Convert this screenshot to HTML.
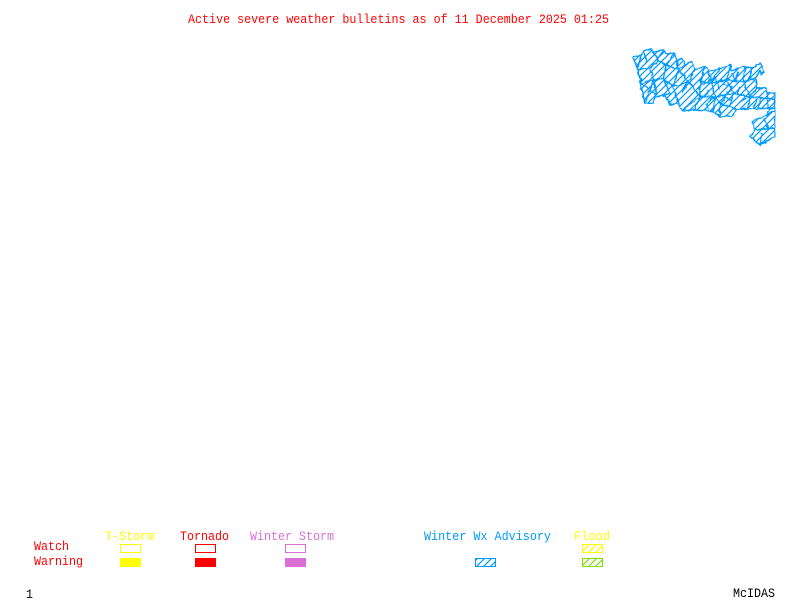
<!DOCTYPE html>
<html><head><meta charset="utf-8"><style>
html,body{margin:0;padding:0;background:#fff}
svg{display:block}
text{font-family:"Liberation Mono",monospace;font-size:12.5px}
</style></head><body>
<svg width="800" height="600" viewBox="0 0 800 600" xmlns="http://www.w3.org/2000/svg">
<defs>
<pattern id="hb" patternUnits="userSpaceOnUse" width="7" height="7"><path d="M-1 8L8 -1M-1 1L1 -1M6 8L8 6" stroke="#0099ff" stroke-width="1.2"/></pattern>
<pattern id="hy" patternUnits="userSpaceOnUse" width="7" height="7"><path d="M-1 8L8 -1M-1 1L1 -1M6 8L8 6" stroke="#ffff00" stroke-width="1.2"/></pattern>
<pattern id="hg" patternUnits="userSpaceOnUse" width="7" height="7"><path d="M-1 8L8 -1M-1 1L1 -1M6 8L8 6" stroke="#7fdd00" stroke-width="1.2"/></pattern>
<pattern id="hm" patternUnits="userSpaceOnUse" width="21" height="21"><path d="M-3 24L24 -3M-3 3L3 -3M18 24L24 18" stroke="#0099ff" stroke-width="3.6"/></pattern>
<filter id="wob" filterUnits="userSpaceOnUse" x="620" y="40" width="170" height="115"><feTurbulence type="fractalNoise" baseFrequency="0.22" numOctaves="2" seed="4"/><feDisplacementMap in="SourceGraphic" scale="3.5" xChannelSelector="R" yChannelSelector="G"/></filter>
<clipPath id="cl"><rect x="620" y="40" width="155.5" height="115"/></clipPath>
</defs>
<rect width="800" height="600" fill="#fff"/>

<g clip-path="url(#cl)">
<g transform="translate(620,40) scale(.33333)">
<path fill="url(#hm)" d="M40 50L65 45L70 32L95 27L100 38L130 30L140 42L163 38L170 62L185 55L195 75L215 65L225 90L255 78L265 95L300 85L330 75L335 90L375 78L395 85L420 72L432 95L425 105L420 90L405 115L410 145L435 145L440 160L465 160L465 205L350 208L335 228L300 230L280 215L225 210L185 212L175 190L150 195L135 165L105 170L100 190L75 190L65 150L55 95Z"/>
<path fill="url(#hm)" d="M465 210L465 290L420 315L390 290L405 270L395 245L440 225Z"/>
</g>
<g filter="url(#wob)">
<g transform="translate(620,40) scale(.33333)" fill="none" stroke="#0099ff" stroke-width="4.2" stroke-linejoin="round">
<path d="M40 50L65 45L70 32L95 27L100 38L130 30L140 42L163 38L170 62L185 55L195 75L215 65L225 90L255 78L265 95L300 85L330 75L335 90L375 78L395 85L420 72L432 95L425 105L420 90L405 115L410 145L435 145L440 160L465 160L465 205L350 208L335 228L300 230L280 215L225 210L185 212L175 190L150 195L135 165L105 170L100 190L75 190L65 150L55 95Z"/>
<path d="M465 210L465 290L420 315L390 290L405 270L395 245L440 225Z"/>
<path d="M65 45L50 90L90 85L115 60L100 38M70 32L80 65M130 30L110 60L140 75L163 38M90 85L100 120L65 130M55 95L65 130M140 75L130 115L100 120M100 120L110 165M130 115L150 160L135 165M140 75L175 90L170 62M175 90L160 140L130 115M195 75L175 90M175 90L205 125L160 140M225 90L205 125L240 170L185 212M160 140L175 190M205 125L185 160M255 78L240 125L275 130L265 95M240 125L240 170L285 170L275 130M240 170L225 210M285 170L280 215M300 85L275 130M275 130L320 120L330 75M320 120L340 160L285 170M320 120L370 125L405 115M370 125L375 78M340 160L390 170L410 145M370 125L390 170M390 170L465 178M340 160L330 200L300 190L285 170M330 200L350 208M390 170L385 205M300 190L300 230M425 170L415 205M440 160L445 205M335 100L350 130M285 110L300 150M360 140L350 165M310 170L335 180M260 190L285 170M450 205L440 225M430 235L445 265L465 265M405 270L445 265M420 315L425 280"/>
<path d="M65 130L90 150L100 120M90 150L75 190M90 150L110 165M260 190L265 215M250 135L285 110M345 120L355 95M395 85L385 125M360 185L390 170M305 130L335 140L320 160M255 170L265 150M300 190L320 170M410 180L400 205"/>
</g>
</g>
</g>

<text x="188" y="23" fill="#ff0000" textLength="421" lengthAdjust="spacingAndGlyphs">Active severe weather bulletins as of 11 December 2025 01:25</text>

<text x="105" y="540" fill="#ffff00" textLength="49" lengthAdjust="spacingAndGlyphs">T-Storm</text>
<text x="180" y="540" fill="#ff0000" textLength="49" lengthAdjust="spacingAndGlyphs">Tornado</text>
<text x="250" y="540" fill="#da70d6" textLength="84" lengthAdjust="spacingAndGlyphs">Winter Storm</text>
<text x="424" y="540" fill="#0099ff" textLength="127" lengthAdjust="spacingAndGlyphs">Winter Wx Advisory</text>
<text x="574" y="540" fill="#ffff00" textLength="36" lengthAdjust="spacingAndGlyphs">Flood</text>
<text x="34" y="550" fill="#ff0000" textLength="35" lengthAdjust="spacingAndGlyphs">Watch</text>
<text x="34" y="565" fill="#ff0000" textLength="49" lengthAdjust="spacingAndGlyphs">Warning</text>
<text x="26" y="598" fill="#000" textLength="7" lengthAdjust="spacingAndGlyphs">1</text>
<text x="733" y="597" fill="#000" textLength="42" lengthAdjust="spacingAndGlyphs">McIDAS</text>

<g shape-rendering="crispEdges">
<rect x="120.5" y="544.5" width="20" height="8" fill="none" stroke="#ffff00"/>
<rect x="120" y="558" width="21" height="9" fill="#ffff00"/>
<rect x="195.5" y="544.5" width="20" height="8" fill="none" stroke="#ff0000"/>
<rect x="195" y="558" width="21" height="9" fill="#ff0000"/>
<rect x="285.5" y="544.5" width="20" height="8" fill="none" stroke="#da70d6"/>
<rect x="285" y="558" width="21" height="9" fill="#da70d6"/>
<rect x="475.5" y="558.5" width="20" height="8" fill="url(#hb)" stroke="#0099ff"/>
<rect x="582.5" y="544.5" width="20" height="8" fill="url(#hy)" stroke="#ffff00"/>
<rect x="582.5" y="558.5" width="20" height="8" fill="url(#hg)" stroke="#7fdd00"/>
</g>
</svg>
</body></html>
